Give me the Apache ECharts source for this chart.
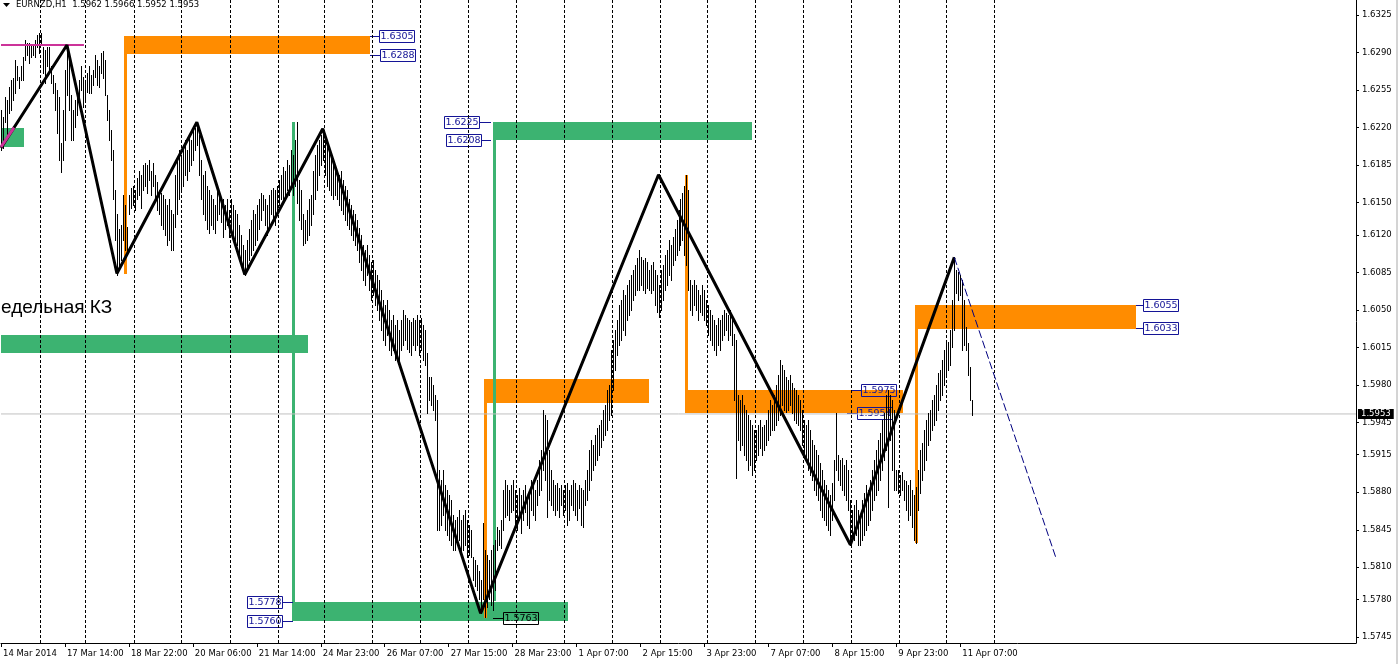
<!DOCTYPE html>
<html><head><meta charset="utf-8">
<script src="https://cdn.jsdelivr.net/npm/echarts@6/dist/echarts.min.js"></script>
<style>html,body{margin:0;padding:0;background:#fff;}#c{width:1398px;height:664px;}</style>
</head><body><div id="c"></div>
<script>
// ---- data ----
const xTickBars = [0,32,64,96,128,160,192,224,256,288,320,352,384,416,448,480];
const xTickLabels = ['14 Mar 2014','17 Mar 14:00','18 Mar 22:00','20 Mar 06:00','21 Mar 14:00','24 Mar 23:00','26 Mar 07:00','27 Mar 15:00','28 Mar 23:00','1 Apr 07:00','2 Apr 15:00','3 Apr 23:00','7 Apr 07:00','8 Apr 15:00','9 Apr 23:00','11 Apr 07:00'];
const yTickValues = [1.6325,1.6290,1.6255,1.6220,1.6185,1.6150,1.6120,1.6085,1.6050,1.6015,1.5980,1.5945,1.5915,1.5880,1.5845,1.5810,1.5780,1.5745];
const separatorBars = [19.5,42,66.5,90,114.5,138.5,161.5,185.5,209.5,233.5,257.5,281.5,305.5,329.5,353.5,377.5,401.5,425.5,449.5,473,497];
const barHigh = [
1.6236,1.6230,1.6249,1.6246,1.6258,1.6264,1.6266,1.6283,1.6277,1.6267,
1.6277,1.6286,1.6302,1.6299,1.6299,1.6297,1.6296,1.6302,1.6306,1.6308,
1.6308,1.6295,1.6292,1.6295,1.6295,1.6277,1.6269,1.6262,1.6255,1.6249,
1.6206,1.6236,1.6274,1.6297,1.6283,1.6250,1.6236,1.6246,1.6255,1.6264,
1.6277,1.6267,1.6264,1.6271,1.6277,1.6269,1.6274,1.6288,1.6283,1.6277,
1.6290,1.6291,1.6283,1.6250,1.6236,1.6218,1.6199,1.6162,1.6139,1.6125,
1.6129,1.6157,1.6148,1.6127,1.6157,1.6164,1.6166,1.6162,1.6173,1.6180,
1.6176,1.6185,1.6187,1.6185,1.6190,1.6180,1.6187,1.6176,1.6169,1.6162,
1.6159,1.6157,1.6153,1.6148,1.6153,1.6143,1.6139,1.6176,1.6190,1.6199,
1.6194,1.6204,1.6208,1.6199,1.6213,1.6208,1.6218,1.6220,1.6225,1.6213,
1.6190,1.6176,1.6180,1.6166,1.6162,1.6157,1.6153,1.6148,1.6162,1.6157,
1.6154,1.6153,1.6148,1.6153,1.6143,1.6153,1.6148,1.6143,1.6139,1.6129,
1.6120,1.6111,1.6106,1.6115,1.6125,1.6134,1.6143,1.6139,1.6148,1.6153,
1.6159,1.6157,1.6153,1.6148,1.6157,1.6162,1.6164,1.6162,1.6166,1.6171,
1.6176,1.6183,1.6180,1.6190,1.6185,1.6199,1.6194,1.6208,1.6225,1.6171,
1.6162,1.6139,1.6134,1.6143,1.6153,1.6157,1.6180,1.6194,1.6204,1.6208,
1.6213,1.6219,1.6208,1.6204,1.6199,1.6194,1.6190,1.6185,1.6180,1.6176,
1.6180,1.6171,1.6166,1.6162,1.6153,1.6148,1.6143,1.6139,1.6134,1.6126,
1.6120,1.6111,1.6106,1.6111,1.6101,1.6095,1.6097,1.6087,1.6083,1.6078,
1.6069,1.6059,1.6055,1.6059,1.6050,1.6041,1.6045,1.6036,1.6041,1.6031,
1.6041,1.6050,1.6045,1.6042,1.6041,1.6039,1.6042,1.6041,1.6045,1.6041,
1.6042,1.6036,1.6031,1.6010,1.5987,1.5987,1.5980,1.5971,1.5966,1.5901,
1.5891,1.5901,1.5887,1.5882,1.5877,1.5873,1.5859,1.5854,1.5857,1.5863,
1.5854,1.5859,1.5863,1.5854,1.5849,1.5845,1.5820,1.5817,1.5812,1.5807,
1.5798,1.5851,1.5826,1.5821,1.5817,1.5826,1.5831,1.5835,1.5848,1.5845,
1.5854,1.5882,1.5891,1.5887,1.5882,1.5887,1.5891,1.5882,1.5877,1.5884,
1.5877,1.5882,1.5887,1.5877,1.5882,1.5891,1.5887,1.5882,1.5891,1.5910,
1.5919,1.5957,1.5952,1.5947,1.5919,1.5901,1.5891,1.5887,1.5889,1.5884,
1.5887,1.5882,1.5887,1.5889,1.5882,1.5887,1.5891,1.5889,1.5882,1.5887,
1.5884,1.5882,1.5891,1.5901,1.5919,1.5929,1.5924,1.5933,1.5940,1.5943,
1.5947,1.5957,1.5961,1.5975,1.5980,1.6013,1.6022,1.6031,1.6041,1.6055,
1.6059,1.6069,1.6064,1.6073,1.6078,1.6083,1.6087,1.6092,1.6098,1.6106,
1.6099,1.6097,1.6098,1.6095,1.6087,1.6092,1.6095,1.6087,1.6083,1.6073,
1.6087,1.6092,1.6101,1.6106,1.6115,1.6111,1.6118,1.6125,1.6134,1.6143,
1.6153,1.6159,1.6166,1.6176,1.6162,1.6078,1.6073,1.6078,1.6073,1.6069,
1.6064,1.6073,1.6069,1.6059,1.6055,1.6050,1.6045,1.6041,1.6036,1.6042,
1.6041,1.6045,1.6050,1.6047,1.6045,1.6050,1.6041,1.6028,1.6022,1.5971,
1.5966,1.5971,1.5961,1.5957,1.5952,1.5947,1.5943,1.5938,1.5938,1.5943,
1.5947,1.5941,1.5943,1.5947,1.5957,1.5966,1.5961,1.5971,1.5980,1.5989,
1.6003,1.5999,1.5994,1.5987,1.5985,1.5989,1.5982,1.5977,1.5975,1.5971,
1.5966,1.5957,1.5947,1.5943,1.5947,1.5938,1.5929,1.5924,1.5919,1.5915,
1.5907,1.5901,1.5891,1.5887,1.5882,1.5877,1.5889,1.5910,1.5954,1.5915,
1.5910,1.5912,1.5905,1.5910,1.5901,1.5873,1.5863,1.5868,1.5873,1.5863,
1.5854,1.5873,1.5879,1.5887,1.5882,1.5891,1.5901,1.5910,1.5919,1.5929,
1.5935,1.5947,1.5954,1.5971,1.5975,1.5971,1.5966,1.5957,1.5901,1.5901,
1.5896,1.5899,1.5891,1.5890,1.5887,1.5891,1.5882,1.5877,1.5885,1.5901,
1.5919,1.5926,1.5938,1.5947,1.5954,1.5957,1.5966,1.5971,1.5980,1.5991,
1.5994,1.6003,1.6013,1.6022,1.6020,1.6031,1.6059,1.6099,1.6087,1.6085,
1.6083,1.6078,1.6059,1.6034,1.6019,1.5997,1.5966];
const barLow = [
1.6199,1.6201,1.6225,1.6211,1.6234,1.6236,1.6246,1.6252,1.6264,1.6257,
1.6264,1.6264,1.6283,1.6288,1.6280,1.6286,1.6288,1.6286,1.6295,1.6290,
1.6297,1.6271,1.6262,1.6277,1.6274,1.6262,1.6252,1.6236,1.6215,1.6190,
1.6179,1.6190,1.6208,1.6250,1.6236,1.6208,1.6208,1.6221,1.6232,1.6241,
1.6255,1.6239,1.6246,1.6253,1.6252,1.6252,1.6260,1.6267,1.6260,1.6258,
1.6271,1.6266,1.6250,1.6227,1.6208,1.6190,1.6153,1.6115,1.6083,1.6087,
1.6097,1.6115,1.6106,1.6101,1.6139,1.6145,1.6148,1.6143,1.6153,1.6157,
1.6145,1.6162,1.6166,1.6159,1.6171,1.6157,1.6166,1.6153,1.6143,1.6139,
1.6129,1.6125,1.6120,1.6111,1.6115,1.6106,1.6106,1.6127,1.6139,1.6153,
1.6162,1.6166,1.6176,1.6171,1.6180,1.6185,1.6190,1.6199,1.6204,1.6176,
1.6153,1.6139,1.6134,1.6125,1.6122,1.6129,1.6125,1.6122,1.6134,1.6139,
1.6132,1.6118,1.6125,1.6129,1.6118,1.6125,1.6120,1.6115,1.6111,1.6101,
1.6095,1.6087,1.6083,1.6089,1.6097,1.6101,1.6106,1.6111,1.6115,1.6125,
1.6134,1.6143,1.6129,1.6120,1.6129,1.6139,1.6134,1.6129,1.6139,1.6148,
1.6153,1.6153,1.6157,1.6162,1.6157,1.6166,1.6157,1.6166,1.6150,1.6134,
1.6125,1.6111,1.6112,1.6115,1.6120,1.6129,1.6139,1.6153,1.6162,1.6176,
1.6185,1.6190,1.6176,1.6166,1.6162,1.6157,1.6153,1.6157,1.6153,1.6148,
1.6143,1.6139,1.6134,1.6129,1.6125,1.6120,1.6115,1.6111,1.6106,1.6095,
1.6087,1.6078,1.6073,1.6083,1.6069,1.6059,1.6064,1.6055,1.6050,1.6041,
1.6031,1.6022,1.6017,1.6027,1.6013,1.6008,1.6013,1.6003,1.6008,1.6003,
1.6013,1.6017,1.6022,1.6014,1.6011,1.6008,1.6017,1.6013,1.6017,1.6008,
1.6013,1.6003,1.5999,1.5954,1.5966,1.5961,1.5957,1.5947,1.5845,1.5845,
1.5849,1.5859,1.5845,1.5840,1.5835,1.5831,1.5826,1.5826,1.5831,1.5835,
1.5821,1.5826,1.5831,1.5820,1.5821,1.5820,1.5798,1.5793,1.5789,1.5780,
1.5767,1.5780,1.5764,1.5773,1.5780,1.5775,1.5770,1.5789,1.5826,1.5831,
1.5828,1.5845,1.5857,1.5859,1.5854,1.5862,1.5863,1.5849,1.5845,1.5854,
1.5842,1.5854,1.5862,1.5849,1.5847,1.5863,1.5859,1.5854,1.5868,1.5877,
1.5882,1.5901,1.5891,1.5857,1.5873,1.5868,1.5863,1.5859,1.5863,1.5857,
1.5868,1.5859,1.5863,1.5849,1.5854,1.5868,1.5863,1.5859,1.5854,1.5865,
1.5849,1.5848,1.5868,1.5873,1.5882,1.5891,1.5901,1.5905,1.5910,1.5915,
1.5922,1.5929,1.5933,1.5938,1.5947,1.5952,1.5975,1.5994,1.6008,1.6017,
1.6022,1.6031,1.6027,1.6041,1.6045,1.6050,1.6059,1.6064,1.6069,1.6069,
1.6073,1.6069,1.6066,1.6070,1.6069,1.6066,1.6069,1.6055,1.6048,1.6043,
1.6050,1.6059,1.6069,1.6073,1.6083,1.6078,1.6092,1.6097,1.6101,1.6106,
1.6111,1.6115,1.6101,1.6092,1.6069,1.6050,1.6045,1.6055,1.6050,1.6041,
1.6048,1.6045,1.6041,1.6036,1.6027,1.6022,1.6017,1.6013,1.6008,1.6017,
1.6013,1.6022,1.6027,1.6031,1.6022,1.6027,1.6017,1.5966,1.5893,1.5929,
1.5919,1.5924,1.5915,1.5910,1.5901,1.5905,1.5896,1.5901,1.5910,1.5915,
1.5921,1.5915,1.5919,1.5924,1.5929,1.5933,1.5938,1.5938,1.5943,1.5947,
1.5952,1.5961,1.5957,1.5955,1.5957,1.5961,1.5954,1.5947,1.5945,1.5943,
1.5938,1.5924,1.5915,1.5910,1.5901,1.5896,1.5891,1.5882,1.5877,1.5873,
1.5863,1.5857,1.5854,1.5849,1.5845,1.5840,1.5854,1.5873,1.5901,1.5891,
1.5887,1.5882,1.5877,1.5873,1.5863,1.5831,1.5835,1.5835,1.5840,1.5831,
1.5831,1.5835,1.5840,1.5845,1.5849,1.5854,1.5863,1.5873,1.5877,1.5882,
1.5891,1.5901,1.5910,1.5919,1.5866,1.5929,1.5901,1.5882,1.5882,1.5879,
1.5877,1.5882,1.5873,1.5863,1.5854,1.5859,1.5848,1.5835,1.5833,1.5863,
1.5879,1.5891,1.5901,1.5910,1.5924,1.5929,1.5938,1.5943,1.5947,1.5957,
1.5966,1.5971,1.5980,1.5989,1.5994,1.5999,1.6015,1.6031,1.6066,1.6059,
1.6064,1.6013,1.6017,1.6013,1.5989,1.5966,1.5952];
const zigzagBars = [0,33,58,98,122,161,240,329,425,477];
const zigzagPrices = [1.6201,1.6297,1.6084,1.6225,1.6083,1.6219,1.5767,1.6176,1.5831,1.6099];
const projectionBars = [477,528];
const projectionPrices = [1.6099,1.5818];
const pinkLevel = [[0,1.6297],[41.5,1.6297]];
const pinkDiag = [[0,1.6202],[6.5,1.6220]];
const orangeZones = [[61.5,184.5,1.6305,1.6288],[242,324,1.5986,1.5964],[342.5,451.5,1.5975,1.5954],[458,568,1.6055,1.6033]];
const greenZones = [[0,11.5,1.6220,1.6202],[0,153.5,1.6027,1.6010],[246.5,375.5,1.6225,1.6208],[146,283.5,1.5778,1.5760]];
const orangeVerticals = [[61.5,1.6305,1.6083],[241.5,1.5986,1.5763],[342.5,1.6176,1.5954],[457.5,1.6055,1.5833]];
const greenVerticals = [[145.5,1.6225,1.5760],[246,1.6225,1.5778]];
// price tags: [anchor bar, box edge bar, price]
const blueTags = [[184.5,189,1.6305],[184.5,189.5,1.6288],[245,239,1.6225],[245,240,1.6208],[146,140.5,1.5778],[146,140.5,1.5760],[425.5,430.5,1.5975],[423.5,428.5,1.5954],[568,571.5,1.6055],[568,571.5,1.6033]];
const blackTags = [[246,251,1.5763]];
const lastPrice = 1.5953;
const headerText = 'EURNZD,H1  1.5962 1.5966 1.5952 1.5953';
const noteText = 'едельная КЗ';

// ---- chart ----
const FONT = 'DejaVu Sans';
const ORANGE = '#ff8c00', GREEN = '#3cb371', NAVY = '#141496';
const chart = echarts.init(document.getElementById('c'), null, {renderer:'canvas'});

function zoneSeries(items, color, z){
  return {type:'custom', silent:true, z, clip:true, data:items,
    renderItem(p, api){
      const a = api.coord([api.value(0), api.value(2)]);
      const b = api.coord([api.value(1), api.value(3)]);
      return {type:'rect', shape:{x:Math.round(a[0]), y:Math.round(a[1]), width:Math.round(b[0]-a[0]), height:Math.round(b[1]-a[1])}, style:{fill:color}};
    }};
}
function vertSeries(items, color, z){
  return {type:'custom', silent:true, z, clip:true, data:items,
    renderItem(p, api){
      const a = api.coord([api.value(0), api.value(1)]);
      const b = api.coord([api.value(0), api.value(2)]);
      return {type:'rect', shape:{x:Math.round(a[0]), y:Math.round(a[1]), width:3, height:Math.round(b[1]-a[1])}, style:{fill:color}};
    }};
}
function tagSeries(items, color, z){
  return {type:'custom', silent:true, z, clip:false, data:items,
    renderItem(p, api){
      const a = api.coord([api.value(0), api.value(2)]);
      const e = api.coord([api.value(1), api.value(2)]);
      const right = e[0] > a[0];
      const W = 35, H = 12;
      const y = Math.round(a[1]) + 0.5;
      const bx = right ? Math.round(e[0]) + 0.5 : Math.round(e[0]) - W + 0.5;
      return {type:'group', children:[
        {type:'line', shape:{x1:Math.round(a[0]), y1:y, x2:Math.round(e[0]), y2:y}, style:{stroke:color, lineWidth:1}},
        {type:'rect', shape:{x:bx, y:y - 6, width:W, height:H}, style:{fill:'rgba(0,0,0,0)', stroke:color, lineWidth:1}},
        {type:'text', style:{x:bx + W/2, y:y + 0.5, text:api.value(2).toFixed(4), fill:color, fontSize:9.5, fontFamily:FONT, align:'center', verticalAlign:'middle'}}
      ]};
    }};
}

const option = {
  animation:false,
  backgroundColor:'#ffffff',
  grid:{left:0, top:0, right:42, bottom:21, containLabel:false},
  xAxis:{type:'value', min:0, max:678, position:'bottom',
    axisLine:{show:true, onZero:false, lineStyle:{color:'#000', width:1}},
    axisTick:{show:true, customValues:xTickBars, length:4, lineStyle:{color:'#000'}},
    axisLabel:{show:true, customValues:xTickBars, align:'left', margin:6, padding:[0,0,0,2], color:'#000', fontFamily:FONT, fontSize:8.5,
      formatter:(v)=>{const k = xTickBars.indexOf(Math.round(v)); return k>=0 ? xTickLabels[k] : '';}},
    splitLine:{show:false}},
  yAxis:{type:'value', min:1.57394, max:1.6339, position:'right', scale:true,
    axisLine:{show:true, onZero:false, lineStyle:{color:'#000', width:1}},
    axisTick:{show:true, customValues:yTickValues, length:3, lineStyle:{color:'#000'}},
    axisLabel:{show:true, customValues:yTickValues, margin:6, color:'#000', fontFamily:FONT, fontSize:8.5, formatter:(v)=>v.toFixed(4)},
    splitLine:{show:false}},
  series:[
    zoneSeries(orangeZones, ORANGE, 1),
    zoneSeries(greenZones, GREEN, 1),
    vertSeries(orangeVerticals, ORANGE, 2),
    vertSeries(greenVerticals, GREEN, 2),
    tagSeries(blueTags, NAVY, 3),
    tagSeries(blackTags, '#000', 3),
    {type:'custom', silent:true, z:4, data:separatorBars.map(v=>[v]),
      renderItem(p, api){
        const a = api.coord([api.value(0), 1.6339]);
        const b = api.coord([api.value(0), 1.57394]);
        const x = Math.round(a[0]) + 0.5;
        return {type:'line', shape:{x1:x, y1:a[1], x2:x, y2:b[1]}, style:{stroke:'#000', lineWidth:1, lineDash:[3,2]}};
      }},
    {type:'line', silent:true, z:4, data:[[0,lastPrice],[678,lastPrice]], symbol:'none',
      lineStyle:{color:'#c0c0c0', width:1},
      endLabel:{show:true, formatter:lastPrice.toFixed(4), backgroundColor:'#000', color:'#fff', fontFamily:FONT, fontSize:8.5, padding:[1,3,0,3], distance:2}},
    {type:'custom', silent:true, z:5, data:barHigh.map((h,i)=>[i,h,barLow[i]]),
      renderItem(p, api){
        const a = api.coord([api.value(0), api.value(1)]);
        const b = api.coord([api.value(0), api.value(2)]);
        const x = Math.round(a[0]) + 0.5;
        return {type:'line', shape:{x1:x, y1:Math.round(a[1]), x2:x, y2:Math.round(b[1])+1}, style:{stroke:'#000', lineWidth:1}};
      }},
    {type:'line', silent:true, z:6, data:pinkLevel, symbol:'none', lineStyle:{color:'#cc3399', width:2}},
    {type:'line', silent:true, z:7, data:zigzagBars.map((b,i)=>[b,zigzagPrices[i]]), symbol:'none', lineStyle:{color:'#000', width:3}},
    {type:'line', silent:true, z:8, data:pinkDiag, symbol:'none', lineStyle:{color:'#cc3399', width:3}},
    {type:'line', silent:true, z:7, data:projectionBars.map((b,i)=>[b,projectionPrices[i]]), symbol:'none', lineStyle:{color:'#000080', width:1, type:[8,3]}}
  ],
  graphic:[
    {type:'polygon', shape:{points:[[3,3],[10,3],[6.5,7]]}, style:{fill:'#000'}, z:100},
    {type:'text', left:16, top:0, style:{text:headerText, font:'8.5px "DejaVu Sans"', fill:'#000'}, z:100},
    {type:'text', left:1, top:298, style:{text:noteText, font:'19px "Liberation Sans"', fill:'#000'}, z:100},
    {type:'rect', shape:{x:1396, y:0, width:2, height:664}, style:{fill:'#d4d4d4'}, z:100}
  ]
};
chart.setOption(option);
</script>
</body></html>
